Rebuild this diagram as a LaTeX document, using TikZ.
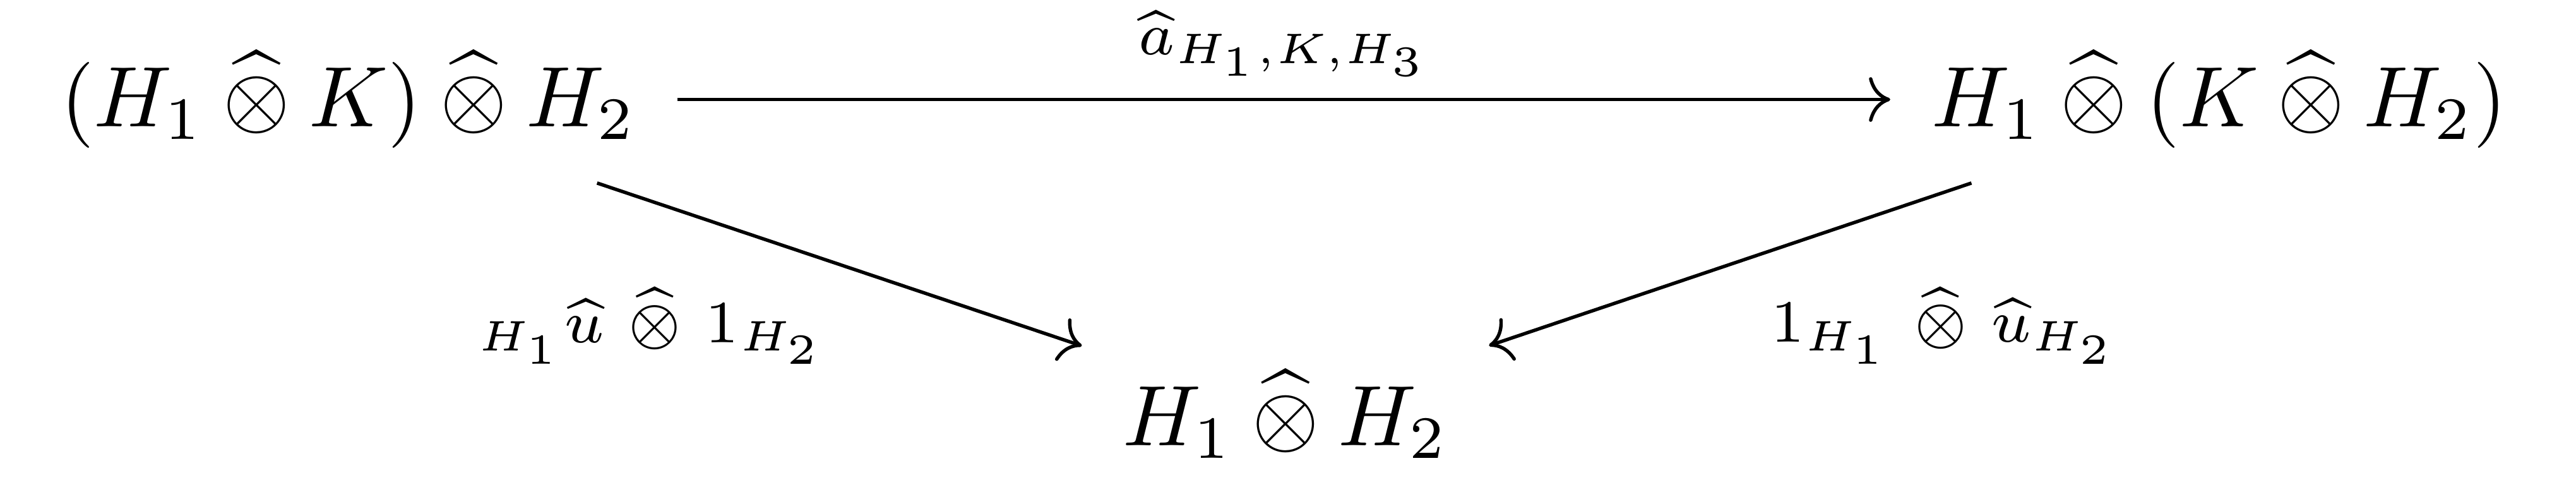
\documentclass[tikz,border=0pt]{standalone}
\usepackage{amsmath,amssymb}
\usepackage{tikz}
\usetikzlibrary{arrows.meta}
\newcommand{\hotimes}{\mathbin{\widehat{\otimes}}}

\begin{document}
\begin{tikzpicture}[
  obj/.style={inner xsep=4.6pt, inner ysep=3.9pt, anchor=base},
  lbl/.style={inner sep=2.5pt},
  arr/.style={-{Computer Modern Rightarrow}, line width=0.4pt}
]
\useasboundingbox (0,0) rectangle (10.543,-2.013);
%% objects (top row on one baseline, bottom object centred)
\node[obj] (tl)  at (1.426,-0.517) {$(H_1\hotimes K)\hotimes H_2$};
\node[obj] (tr)  at (9.083,-0.517) {$H_1\hotimes(K\hotimes H_2)$};
\node[obj] (bot) at (5.261,-1.822) {$H_1\hotimes H_2$};
%% arrows
\draw[arr] (tl) -- (tr)
    node[lbl, midway, above] {$\scriptstyle\widehat{a}_{H_1,K,H_3}$};
\draw[arr] (tl) -- (bot)
    node[lbl, midway, anchor=north east, xshift=1pt]
    {$\scriptstyle{}_{H_1}\widehat{u}\mkern6mu\hotimes\mkern6mu 1_{H_2}$};
\draw[arr] (tr) -- (bot)
    node[lbl, midway, anchor=north west, xshift=2pt]
    {$\scriptstyle 1_{H_1}\mkern6mu\hotimes\mkern6mu\widehat{u}_{H_2}$};
\end{tikzpicture}
\end{document}
